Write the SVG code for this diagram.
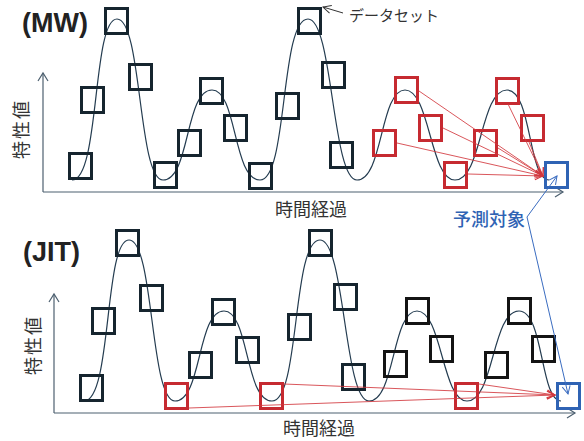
<svg xmlns="http://www.w3.org/2000/svg" width="584" height="441" viewBox="0 0 584 441">
<style>
.bg{fill:#ffffff}
.sq{fill:none;stroke-width:3}
.dk{stroke:#16252f}
.bk{stroke:#141414}
.rd{stroke:#c62a31}
.bl{stroke:#2f63b4}
.curve{fill:none;stroke:#243c50;stroke-width:1.2}
.axis{fill:none;stroke:#4d6070;stroke-width:1.2}
.ra{fill:none;stroke:#d2383e;stroke-width:1;stroke-opacity:0.85}
.ba{fill:none;stroke:#3a6cc0;stroke-width:1}
.pt{fill:none;stroke:#333;stroke-width:1}
.ttl{font-family:"Liberation Sans",Arial,sans-serif;font-weight:bold;font-size:27px;fill:#222}
.jp{font-family:"Noto Sans CJK JP","Noto Sans",sans-serif;fill:#333}
.tg{fill:#2f63b4;font-weight:500}
</style>
<defs>
<marker id="mAxis" markerUnits="userSpaceOnUse" markerWidth="12" markerHeight="12" refX="9" refY="6" orient="auto"><path d="M1,1 L9,6 L1,11" fill="none" stroke="#4d6070" stroke-width="1.2"/></marker>
<marker id="mRed" markerUnits="userSpaceOnUse" markerWidth="12" markerHeight="12" refX="9" refY="6" orient="auto"><path d="M1,2 L9,6 L1,10" fill="none" stroke="#d2383e" stroke-width="1"/></marker>
<marker id="mBlue" markerUnits="userSpaceOnUse" markerWidth="12" markerHeight="12" refX="9" refY="6" orient="auto-start-reverse"><path d="M1,2 L9,6 L1,10" fill="none" stroke="#3a6cc0" stroke-width="1"/></marker>
<marker id="mDark" markerUnits="userSpaceOnUse" markerWidth="12" markerHeight="12" refX="9" refY="6" orient="auto"><path d="M1,2 L9,6 L1,10" fill="none" stroke="#333" stroke-width="1"/></marker>
<path id="wave" d="M72,180 C100,180 92,19 117,19 C142,19 138,180 163,180 C190,180 185,90 212,90 C237,90 233,180 260,180 C288,180 280,19 308,19 C333,19 332,180 357,180 C383,180 380,90 405,90 C430,90 430,180 455,180 C482,180 480,90 507,90 C532,90 528,180 549,180"/>
</defs>
<rect class="bg" x="0" y="0" width="584" height="441"/>

<g id="title-mw"><text class="ttl" x="22" y="32">(MW)</text></g>
<g id="title-jit"><text class="ttl" x="23" y="261">(JIT)</text></g>

<g id="axes-top">
<path class="axis" d="M43,192 V73" marker-end="url(#mAxis)"/>
<path class="axis" d="M43,192 H563" marker-end="url(#mAxis)"/>
</g>
<g id="axes-bottom">
<path class="axis" d="M54,413 V294" marker-end="url(#mAxis)"/>
<path class="axis" d="M54,413 H575" marker-end="url(#mAxis)"/>
</g>

<g id="curve-top"><use href="#wave" class="curve"/></g>
<g id="curve-bottom"><use href="#wave" class="curve" transform="translate(12,221)"/></g>

<g id="label-y-top"><text class="jp" font-size="18" text-anchor="middle" dominant-baseline="central" letter-spacing="2" transform="translate(20,129) rotate(-90)">特性値</text></g>
<g id="label-y-bottom"><text class="jp" font-size="18" text-anchor="middle" dominant-baseline="central" letter-spacing="2" transform="translate(31.5,345) rotate(-90)">特性値</text></g>
<g id="label-x-top"><text class="jp" font-size="18" x="311" y="216" text-anchor="middle">時間経過</text></g>
<g id="label-x-bottom"><text class="jp" font-size="18" x="319" y="435" text-anchor="middle">時間経過</text></g>
<g id="label-dataset"><text class="jp" font-size="15" x="349" y="21">データセット</text></g>
<g id="label-target"><text class="jp tg" font-size="18" x="489" y="226" text-anchor="middle">予測対象</text></g>

<g id="top-squares">
<g id="t1"><rect class="sq dk" x="69.5" y="153.5" width="22" height="25"/></g>
<g id="t2"><rect class="sq dk" x="81.5" y="87.5" width="22" height="25"/></g>
<g id="t3"><rect class="sq dk" x="105.5" y="8.5" width="22" height="25"/></g>
<g id="t4"><rect class="sq dk" x="129.5" y="64.5" width="22" height="25"/></g>
<g id="t5"><rect class="sq dk" x="154.5" y="162.5" width="22" height="25"/></g>
<g id="t6"><rect class="sq dk" x="178.5" y="130.5" width="22" height="25"/></g>
<g id="t7"><rect class="sq dk" x="200.5" y="78.5" width="22" height="25"/></g>
<g id="t8"><rect class="sq dk" x="224.5" y="115.5" width="22" height="25"/></g>
<g id="t9"><rect class="sq dk" x="249.5" y="163.5" width="22" height="25"/></g>
<g id="t10"><rect class="sq dk" x="276.5" y="93.5" width="22" height="25"/></g>
<g id="t11"><rect class="sq dk" x="298.5" y="8.5" width="22" height="25"/></g>
<g id="t12"><rect class="sq dk" x="322.5" y="62.5" width="22" height="25"/></g>
<g id="t13"><rect class="sq dk" x="330.5" y="142.5" width="22" height="25"/></g>
<g id="t14"><rect class="sq rd" x="373.5" y="130.5" width="22" height="25"/></g>
<g id="t15"><rect class="sq rd" x="395.5" y="77.5" width="22" height="25"/></g>
<g id="t16"><rect class="sq rd" x="419.5" y="115.5" width="22" height="25"/></g>
<g id="t17"><rect class="sq rd" x="444.5" y="162.5" width="22" height="25"/></g>
<g id="t18"><rect class="sq rd" x="474.5" y="130.5" width="22" height="25"/></g>
<g id="t19"><rect class="sq rd" x="496.5" y="78.5" width="22" height="25"/></g>
<g id="t20"><rect class="sq rd" x="521.5" y="115.5" width="22" height="25"/></g>
<g id="t-target"><rect class="sq bl" x="545.5" y="162.5" width="22" height="25"/></g>
</g>

<g id="bottom-squares">
<g id="b1"><rect class="sq dk" x="80.5" y="375.5" width="22" height="25"/></g>
<g id="b2"><rect class="sq dk" x="92.5" y="308.5" width="22" height="25"/></g>
<g id="b3"><rect class="sq dk" x="116.5" y="230.5" width="22" height="25"/></g>
<g id="b4"><rect class="sq dk" x="140.5" y="285.5" width="22" height="25"/></g>
<g id="b5"><rect class="sq rd" x="165.5" y="383.5" width="22" height="25"/></g>
<g id="b6"><rect class="sq dk" x="189.5" y="352.5" width="22" height="25"/></g>
<g id="b7"><rect class="sq dk" x="212.5" y="299.5" width="22" height="25"/></g>
<g id="b8"><rect class="sq dk" x="236.5" y="337.5" width="22" height="25"/></g>
<g id="b9"><rect class="sq rd" x="260.5" y="383.5" width="22" height="25"/></g>
<g id="b10"><rect class="sq dk" x="288.5" y="314.5" width="22" height="25"/></g>
<g id="b11"><rect class="sq dk" x="309.5" y="230.5" width="22" height="25"/></g>
<g id="b12"><rect class="sq dk" x="334.5" y="284.5" width="22" height="25"/></g>
<g id="b13"><rect class="sq dk" x="342.5" y="364.5" width="22" height="25"/></g>
<g id="b14"><rect class="sq bk" x="384.5" y="351.5" width="22" height="25"/></g>
<g id="b15"><rect class="sq bk" x="406.5" y="298.5" width="22" height="25"/></g>
<g id="b16"><rect class="sq bk" x="430.5" y="336.5" width="22" height="25"/></g>
<g id="b17"><rect class="sq rd" x="455.5" y="383.5" width="22" height="25"/></g>
<g id="b18"><rect class="sq bk" x="485.5" y="352.5" width="22" height="25"/></g>
<g id="b19"><rect class="sq bk" x="508.5" y="298.5" width="22" height="25"/></g>
<g id="b20"><rect class="sq bk" x="532.5" y="336.5" width="22" height="25"/></g>
<g id="b-target"><rect class="sq bl" x="557.5" y="383.5" width="22" height="25"/></g>
</g>

<g id="connectors">
<path class="pt" d="M343,13 L323,7" marker-end="url(#mDark)"/>
<path class="ra" d="M419,91 L543,176" marker-end="url(#mRed)"/>
<path class="ra" d="M443,128 L543,176" marker-end="url(#mRed)"/>
<path class="ra" d="M397,143 L543,176" marker-end="url(#mRed)"/>
<path class="ra" d="M468,174 L543,176" marker-end="url(#mRed)"/>
<path class="ra" d="M498,148 L543,176" marker-end="url(#mRed)"/>
<path class="ra" d="M508,104 L543,176" marker-end="url(#mRed)"/>
<path class="ra" d="M529,142 L543,176" marker-end="url(#mRed)"/>
<path class="ra" d="M189,408 L555,395" marker-end="url(#mRed)"/>
<path class="ra" d="M284,384 L555,395" marker-end="url(#mRed)"/>
<path class="ra" d="M479,384 L555,395" marker-end="url(#mRed)"/>
<path class="ba" d="M557,176 L527,217 L568,394" marker-start="url(#mBlue)" marker-end="url(#mBlue)"/>
</g>
</svg>
